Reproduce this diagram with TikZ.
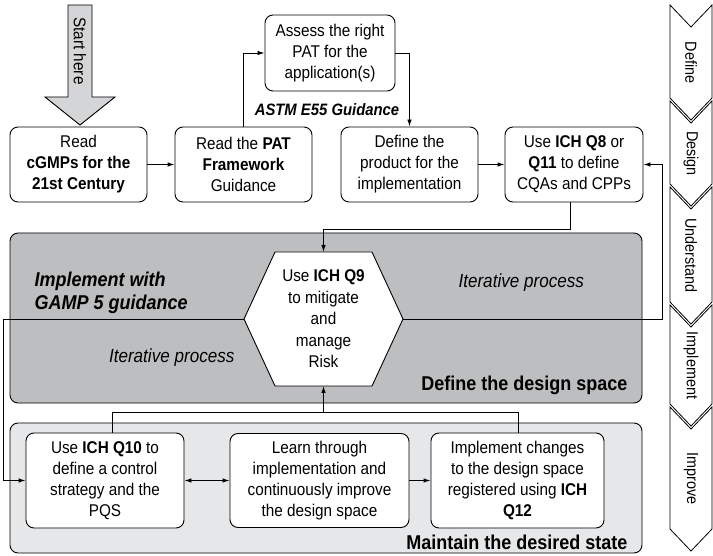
\documentclass[tikz,border=0pt]{standalone}
\usepackage{fontspec}
\setmainfont{Liberation Sans}[FakeStretch=0.9]
\usetikzlibrary{arrows.meta,calc}

\definecolor{paneldark}{HTML}{BDBEC0}
\definecolor{panellight}{HTML}{E6E7E8}
\definecolor{startgray}{HTML}{D4D5D7}

\begin{document}
\begin{tikzpicture}[x=1pt,y=-1pt,
  stepbox/.style={draw, line width=0.9pt, rounded corners=8pt, fill=white,
    align=center, font=\fontsize{17}{21}\selectfont, inner sep=0pt},
  link/.style={line width=0.9pt, -{Latex[length=7pt,width=4.5pt]}},
  twoway/.style={line width=0.9pt, {Latex[length=7pt,width=4.5pt]}-{Latex[length=7pt,width=4.5pt]}},
  plainline/.style={line width=0.9pt},
  panel/.style={draw, line width=0.9pt, rounded corners=8pt},
  chevron/.style={draw, line width=0.8pt, fill=white},
  phase/.style={rotate=-90, font=\fontsize{16}{19}\selectfont},
  bigbold/.style={font=\fontsize{20}{23}\selectfont\bfseries},
  iter/.style={font=\fontsize{19}{22}\selectfont\itshape}
]
\useasboundingbox (0,0) rectangle (713,556);

% ---- background panels ----
\draw[panel, fill=paneldark] (10,233) rectangle (642,403);
\draw[panel, fill=panellight] (10,423) rectangle (642,553);

% ---- start arrow ----
\draw[line width=0.9pt, fill=startgray]
  (68,5) -- (92,5) -- (92,97) -- (115,97) -- (80,125) -- (45,97) -- (68,97) -- cycle;
\node[phase, font=\fontsize{17}{19}\selectfont] (start) at (80,51) {Start here};

% ---- top row ----
\node[stepbox, minimum width=137pt, minimum height=75pt] (cgmp) at (78.5,164.5)
  {Read\\\textbf{cGMPs for the}\\\textbf{21st Century}};
\node[stepbox, minimum width=137pt, minimum height=75pt] (pat) at (243.5,164.5)
  {Read the \textbf{PAT}\\\textbf{Framework}\\Guidance};
\node[stepbox, minimum width=130pt, minimum height=76pt] (assess) at (330,53)
  {Assess the right\\PAT for the\\application(s)};
\node[stepbox, minimum width=137pt, minimum height=75pt] (define) at (409.5,164.5)
  {Define the\\product for the\\implementation};
\node[stepbox, minimum width=138pt, minimum height=75pt] (q8) at (574,164.5)
  {Use \textbf{ICH Q8} or\\\textbf{Q11} to define\\CQAs and CPPs};
\node[font=\fontsize{16.5}{19}\selectfont\bfseries\itshape] (astm) at (327,110) {ASTM E55 Guidance};

% ---- risk hexagon ----
\draw[line width=0.9pt, fill=white]
  (275,252) -- (372,252) -- (403,319) -- (372,386) -- (275,386) -- (244,319) -- cycle;
\coordinate (hexT) at (323.5,252);
\coordinate (hexB) at (323.5,386);
\coordinate (hexL) at (244,319);
\coordinate (hexR) at (403,319);
\node[align=center, font=\fontsize{17}{21.5}\selectfont, inner sep=0pt] (hex) at (323.5,319)
  {Use \textbf{ICH Q9}\\to mitigate\\and\\manage\\Risk};

% ---- panel labels ----
\node[bigbold, align=left, anchor=west] (gamp) at (31,293) {\itshape Implement with\\\itshape GAMP 5 guidance};
\node[iter, anchor=east] (iterL) at (238,358) {Iterative process};
\node[iter, anchor=west] (iterR) at (455,283) {Iterative process};
\node[bigbold, anchor=east] (dspace) at (631,385) {Define the design space};
\node[bigbold, anchor=east] (mstate) at (631,542) {Maintain the desired state};

% ---- bottom row ----
\node[stepbox, minimum width=158pt, minimum height=95pt] (q10) at (105,480.5)
  {Use \textbf{ICH Q10} to\\define a control\\strategy and the\\PQS};
\node[stepbox, minimum width=179pt, minimum height=94pt] (learn) at (319.5,480.5)
  {Learn through\\implementation and\\continuously improve\\the design space};
\node[stepbox, minimum width=173pt, minimum height=95pt] (impl) at (517.5,480.5)
  {Implement changes\\to the design space\\registered using \textbf{ICH}\\\textbf{Q12}};

% ---- connectors ----
\draw[link] (cgmp) -- (pat);
\draw[link] (pat.north) |- (assess.west);
\draw[link] (assess.east) -| (define.north);
\draw[link] (define) -- (q8);

\coordinate (qjoin) at (323.5,229);
\draw[link] ([xshift=-4pt]q8.south) |- (qjoin) -- (hexT);

\coordinate (rjoin) at (662,319);
\draw[link] (hexR) -- (rjoin) |- (q8.east);

\coordinate (ljoin) at (3,319);
\draw[link] (hexL) -- (ljoin) |- (q10.west);

\coordinate (tjoin) at (323.5,412);
\coordinate (tleft) at (112,412);
\coordinate (tright) at (518,412);
\draw[plainline] (tleft |- q10.north) -- (tleft) -- (tright) -- (tright |- impl.north);
\draw[link] (tjoin) -- (hexB);

\draw[twoway] (q10) -- (learn);
\draw[link] (learn) -- (impl);

% ---- phase chevrons ----
\foreach \t/\b/\lab in {5/98/Define, 101/184/Design, 187/302/Understand, 305/404/Implement, 407/529/Improve}{
  \draw[chevron] (670,\t) -- (691,\t+22) -- (712,\t) -- (712,\b) -- (691,\b+22) -- (670,\b) -- cycle;
  \node[phase] (ph-\lab) at (691,{(\t+22+\b)/2}) {\lab};
}
\end{tikzpicture}
\end{document}
